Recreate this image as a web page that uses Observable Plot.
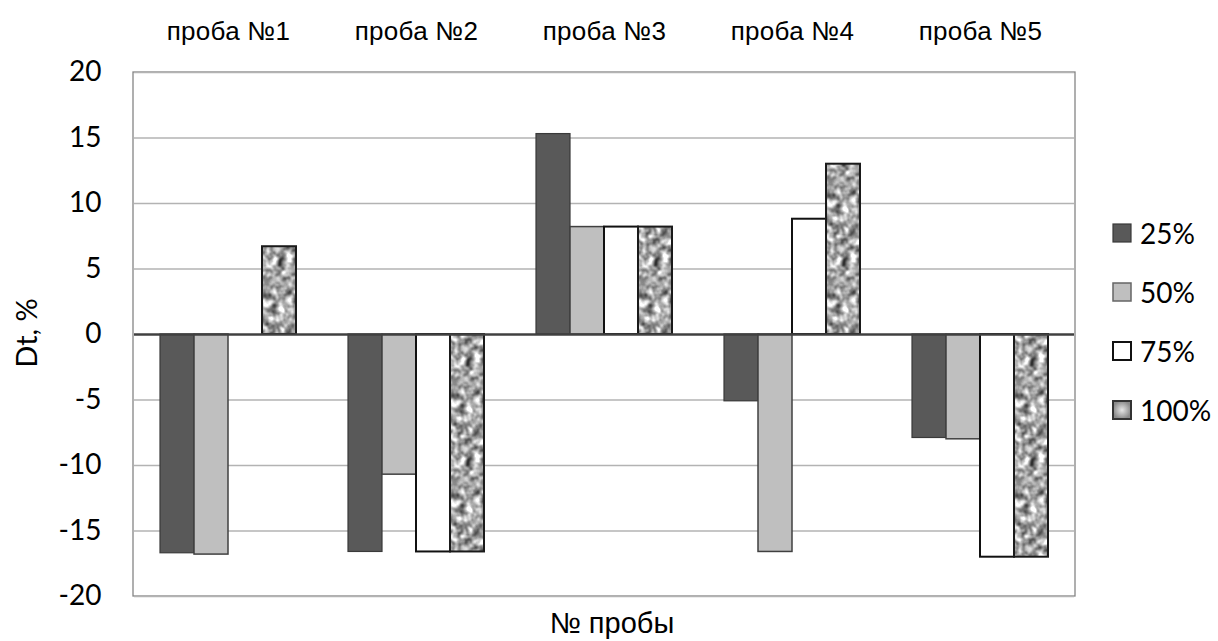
<!DOCTYPE html>
<html>
<head>
<meta charset="utf-8">
<script src="https://cdn.jsdelivr.net/npm/d3@7"></script>
<script src="https://cdn.jsdelivr.net/npm/@observablehq/plot@0.6"></script>
<style>
  html, body { margin: 0; padding: 0; background: #ffffff; }
  #wrap { position: relative; width: 1218px; height: 641px; overflow: hidden; background: #fff; }
  #chart svg { display: block; }
  g[aria-label^="fx-axis"] text { font-family: "Liberation Sans", Arial, sans-serif; font-size: 26px; letter-spacing: 0.3px; fill: #000; }
  g[aria-label^="y-axis"] text { font-family: Lato, "Open Sans", sans-serif; font-size: 28px; fill: #000; }
  .xlabel { position: absolute; left: 612px; bottom: 0px; transform: translateX(-50%); font-family: "Liberation Sans", Arial, sans-serif; font-size: 29px; white-space: nowrap; line-height: 1.2; }
  .ylabel { position: absolute; left: 25px; top: 333px; transform: translate(-50%, -50%) rotate(-90deg); font-family: Lato, "Open Sans", sans-serif; font-size: 29px; white-space: nowrap; line-height: 1; }
  .legend { position: absolute; left: 1112px; top: 203px; }
  .legend .row { height: 59px; display: flex; align-items: center; }
  .legend svg { display: block; margin-right: 8px; }
  .legend span { font-family: Lato, "Open Sans", sans-serif; font-size: 28px; line-height: 1; }
</style>
</head>
<body>
<div id="wrap">
  <div id="chart"></div>
  <div class="ylabel">Dt, %</div>
  <div class="xlabel">№ пробы</div>
  <div class="legend" id="legend"></div>
</div>
<script>
// ---- data ----
const probes = ["проба №1", "проба №2", "проба №3", "проба №4", "проба №5"];
const series = ["25%", "50%", "75%", "100%"];
const v25  = [-16.7, -16.6, 15.3, -5.1, -7.9];
const v50  = [-16.8, -10.7,  8.2, -16.6, -8.0];
const v75  = [  0.0, -16.6,  8.2,  8.8, -17.0];
const v100 = [  6.7, -16.6,  8.2, 13.0, -17.0];
const yTicks = [-20, -15, -10, -5, 0, 5, 10, 15, 20];

// ---- styles ----
const fills   = ["#595959", "#bfbfbf", "#ffffff", "url(#granite)"];
const strokes = ["#3a3a3a", "#404040", "#111111", "#1a1a1a"];
const sWidths = [1.2, 1.5, 2, 2];

const valuesBySeries = [v25, v50, v75, v100];
const data = probes.flatMap((p, i) =>
  series.map((s, j) => ({probe: p, series: s, value: valuesBySeries[j][i]}))
);

const plot = Plot.plot({
  width: 1218,
  height: 641,
  marginLeft: 133,
  marginRight: 143,
  marginTop: 72,
  marginBottom: 45,
  style: {background: "transparent", color: "#000", fontSize: "28px", fontFamily: "Lato, sans-serif", overflow: "visible"},
  fx: {domain: probes, padding: 0, axis: "top", label: null, tickSize: 0, tickPadding: 33},
  x: {domain: series, paddingInner: 0, paddingOuter: 0.73, axis: null},
  y: {domain: [-20, 20], ticks: yTicks, tickSize: 0, tickPadding: 33, label: null, tickFormat: d => String(d)},
  color: {domain: series, range: fills},
  marks: [
    Plot.ruleY(yTicks.filter(t => t !== 0), {stroke: "#b3b3b3", strokeWidth: 1.4}),
    ...series.map((s, j) =>
      Plot.barY(data.filter(d => d.series === s && d.value !== 0), {
        fx: "probe", x: "series", y: "value", fill: "series",
        stroke: strokes[j], strokeWidth: sWidths[j]
      })
    ),
    Plot.ruleY([0], {stroke: "#404040", strokeWidth: 2.6})
  ]
});

// texture definitions
const svg = d3.select(plot);
svg.insert("defs", ":first-child").html(`
  <filter id="granF" x="0" y="0" width="1" height="1" color-interpolation-filters="sRGB">
    <feTurbulence type="fractalNoise" baseFrequency="0.13" numOctaves="2" seed="7" stitchTiles="stitch" result="n"/>
    <feColorMatrix in="n" type="matrix" values="0.5 0.5 0 0 0  0.5 0.5 0 0 0  0.5 0.5 0 0 0  0 0 0 0 1"/>
    <feComponentTransfer>
      <feFuncR type="linear" slope="1.9" intercept="-0.3"/>
      <feFuncG type="linear" slope="1.9" intercept="-0.3"/>
      <feFuncB type="linear" slope="1.9" intercept="-0.3"/>
    </feComponentTransfer>
  </filter>
  <pattern id="granite" patternUnits="userSpaceOnUse" width="100" height="100">
    <rect width="100" height="100" filter="url(#granF)"/>
  </pattern>
`);

// plot-area frame derived from the library's scales
const fxS = plot.scale("fx");
const yS = plot.scale("y");
const x0 = Math.min(...fxS.range), x1 = Math.max(...fxS.range);
const yTop = yS.apply(20), yBot = yS.apply(-20);
svg.insert("rect", "defs + *")
  .attr("x", x0).attr("y", yTop)
  .attr("width", x1 - x0).attr("height", yBot - yTop)
  .attr("fill", "#ffffff").attr("stroke", "#858585").attr("stroke-width", 1.3);

document.getElementById("chart").appendChild(plot);

// legend
const legend = d3.select("#legend");
const swatchStyle = [
  {fill: "#595959", stroke: "#3a3a3a", sw: 1.2},
  {fill: "#bfbfbf", stroke: "#666666", sw: 1.5},
  {fill: "#ffffff", stroke: "#111111", sw: 2},
  {fill: "url(#legGrad)", stroke: "#333333", sw: 2}
];
series.forEach((s, j) => {
  const row = legend.append("div").attr("class", "row");
  const sv = row.append("svg").attr("width", 20).attr("height", 20);
  if (j === 3) {
    sv.append("defs").html(`<radialGradient id="legGrad"><stop offset="0" stop-color="#e6e6e6"/><stop offset="1" stop-color="#8a8a8a"/></radialGradient>`);
  }
  sv.append("rect").attr("x", 1).attr("y", 1).attr("width", 18).attr("height", 18)
    .attr("fill", swatchStyle[j].fill).attr("stroke", swatchStyle[j].stroke).attr("stroke-width", swatchStyle[j].sw);
  row.append("span").text(s);
});
</script>
</body>
</html>
